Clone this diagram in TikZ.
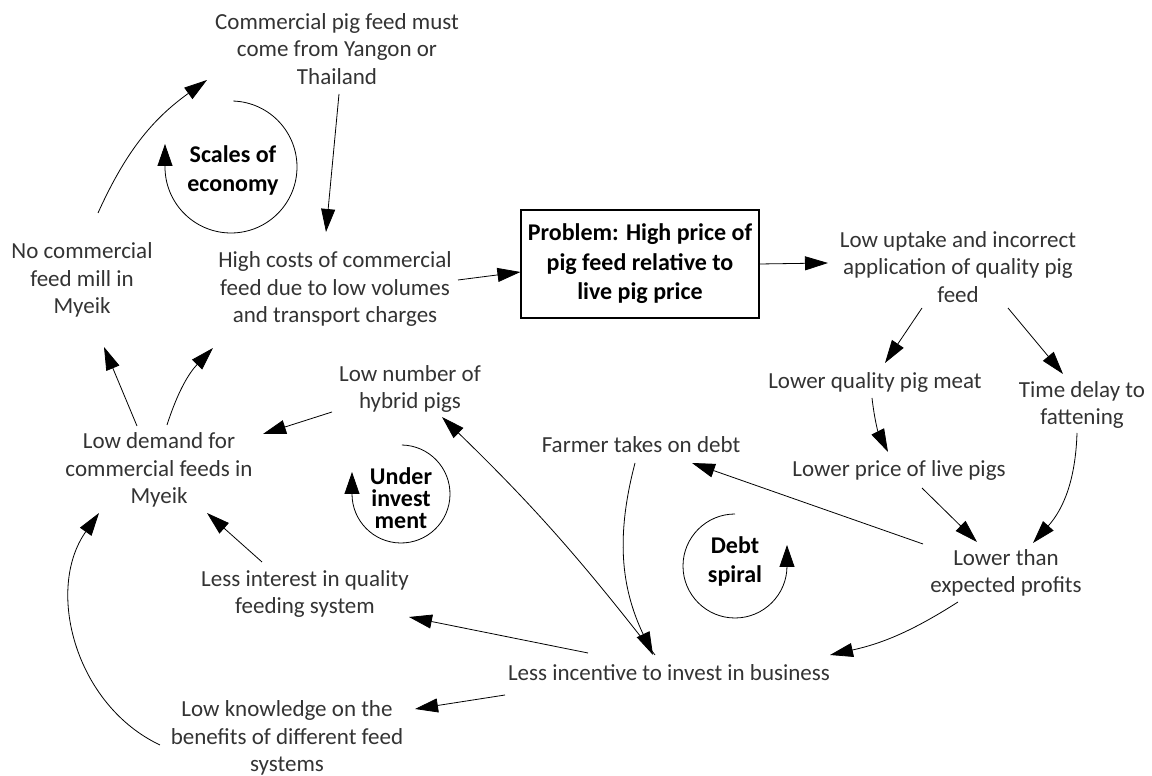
\documentclass[tikz,border=0pt]{standalone}
\usepackage{fontspec}
\setmainfont{Carlito}
\usetikzlibrary{arrows.meta}
\definecolor{txtgray}{HTML}{333333}
\begin{document}
\begin{tikzpicture}[x=1pt,y=1pt,
  txt/.style={align=center,inner sep=0pt,text=txtgray,font=\fontsize{23}{27.5}\selectfont},
  looplabel/.style={align=center,inner sep=0pt,font=\bfseries\fontsize{24}{29}\selectfont},
  problembox/.style={draw,line width=1.1pt,align=center,minimum width=238pt,minimum height=108pt,inner sep=0pt,font=\bfseries\fontsize{24}{29.5}\selectfont},
  conn/.style={line width=0.8pt,-{Triangle[length=23pt,width=14pt]}},
  loopline/.style={line width=0.8pt,-{Triangle[length=22pt,width=15pt]}}]
\useasboundingbox (0,0) rectangle (1152,776);

% variables of the causal loop diagram
\node[txt] (comm) at (337,727) {Commercial pig feed must\\come from Yangon or\\Thailand};
\node[txt] (nocom) at (82,496) {No commercial\\feed mill in\\Myeik};
\node[txt] (highcost) at (335,487) {High costs of commercial\\feed due to low volumes\\and transport charges};
\node[problembox] (problem) at (640,512) {Problem: High price of\\pig feed relative to\\live pig price};
\node[txt] (lowup) at (958,509) {Low uptake and incorrect\\application of quality pig\\feed};
\node[txt] (lowqual) at (875,394) {Lower quality pig meat};
\node[txt] (timedelay) at (1082,371) {Time delay to\\fattening};
\node[txt] (hybrid) at (410,387) {Low number of\\hybrid pigs};
\node[txt] (lowdemand) at (159,306) {Low demand for\\commercial feeds in\\Myeik};
\node[txt] (farmer) at (641,331) {Farmer takes on debt};
\node[txt] (lowprice) at (899,306) {Lower price of live pigs};
\node[txt] (lowerthan) at (1006,203) {Lower than\\expected profits};
\node[txt] (lessint) at (305,182) {Less interest in quality\\feeding system};
\node[txt] (lessinc) at (669,103) {Less incentive to invest in business};
\node[txt] (lowknow) at (287,38) {Low knowledge on the\\benefits of different feed\\systems};

% loop labels
\node[looplabel] (scales) at (233,606) {Scales of\\economy};
\node[looplabel,font=\bfseries\fontsize{24}{22}\selectfont] (under) at (401,278) {Under\\invest\\ment};
\node[looplabel] (debt) at (735,215) {Debt\\spiral};

% loop direction markers
\draw[loopline] ([shift={(-2,3)}]scales.center) ++(88:66) arc[start angle=88,end angle=-180,radius=66] -- ++(0,23);
\draw[loopline] ([shift={(0,4)}]under.center) ++(89:49) arc[start angle=89,end angle=-180,radius=49] -- ++(0,22);
\draw[loopline] ([shift={(0,-5)}]debt.center) ++(90:52) arc[start angle=90,end angle=360,radius=52] -- ++(0,21);

% causal links
\draw[conn] ([shift={(16,67)}]nocom.center) to[bend left=15] ([shift={(-130,-31)}]comm.center);
\draw[conn] ([shift={(2,-45)}]comm.center) -- ([shift={(-9,57)}]highcost.center);
\draw[conn] ([shift={(123,9)}]highcost.center) -- ([yshift=-8]problem.west);
\draw[conn] (problem.east) -- ([shift={(-130,4)}]lowup.center);
\draw[conn] ([shift={(-36,-41)}]lowup.center) -- ([shift={(10,19)}]lowqual.center);
\draw[conn] ([shift={(50,-41)}]lowup.center) -- ([shift={(-19,31)}]timedelay.center);
\draw[conn] ([shift={(-3,-16)}]lowqual.center) to[bend right=10] ([shift={(-11,18)}]lowprice.center);
\draw[conn] ([shift={(-5,-28)}]timedelay.center) to[bend left=20] ([shift={(27,30)}]lowerthan.center);
\draw[conn] ([shift={(23,-18)}]lowprice.center) -- ([shift={(-29,31)}]lowerthan.center);
\draw[conn] ([shift={(-83,29)}]lowerthan.center) -- ([shift={(51,-18)}]farmer.center);
\draw[conn] ([shift={(-48,-29)}]lowerthan.center) to[bend left=10] ([shift={(161,18)}]lessinc.center);
\draw[conn] ([shift={(-6,-18)}]farmer.center) to[bend right=20] ([shift={(-16,18)}]lessinc.center);
\draw[conn] ([shift={(-14,18)}]lessinc.center) to[bend right=4] ([shift={(32,-28)}]hybrid.center);
\draw[conn] ([shift={(-81,20)}]lessinc.center) -- ([shift={(104,-23)}]lessint.center);
\draw[conn] ([shift={(-164,-22)}]lessinc.center) -- ([shift={(128,29)}]lowknow.center);
\draw[conn] ([shift={(-127,-7)}]lowknow.center) to[bend left=50] ([shift={(-60,-43)}]lowdemand.center);
\draw[conn] ([shift={(-43,32)}]lessint.center) -- ([shift={(48,-43)}]lowdemand.center);
\draw[conn] ([shift={(-78,-23)}]hybrid.center) -- ([shift={(104,36)}]lowdemand.center);
\draw[conn] ([shift={(-22,44)}]lowdemand.center) -- ([shift={(22,-67)}]nocom.center);
\draw[conn] ([shift={(8,45)}]lowdemand.center) to[bend left=13] ([shift={(-122,-59)}]highcost.center);
\end{tikzpicture}
\end{document}
